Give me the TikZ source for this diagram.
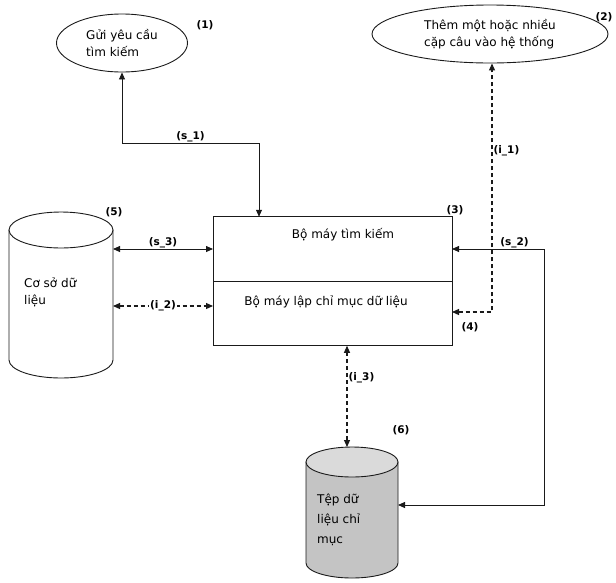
\documentclass[tikz,border=0pt]{standalone}
\usepackage{fontspec}
\setmainfont{DejaVu Sans}
\usetikzlibrary{arrows.meta,calc,positioning,shapes.geometric}
\definecolor{ink}{HTML}{1A1A1A}
\definecolor{tankbody}{HTML}{C4C4C4}
\definecolor{tanktop}{HTML}{DADADA}
\tikzset{
  goal/.style={
    ellipse,
    draw=ink,
    line width=0.9pt,
    inner sep=0pt,
    align=left,
    font=\fontsize{12}{17}\selectfont
  },
  engine/.style={
    rectangle,
    draw=ink,
    line width=1pt,
    outer sep=0pt,
    minimum width=239pt,
    minimum height=64.5pt,
    inner sep=0pt
  },
  tankspot/.style={rectangle, inner sep=0pt, outer sep=0pt},
  tankline/.style={draw=ink, line width=0.9pt},
  bodytext/.style={font=\fontsize{12}{17}\selectfont, align=left, inner sep=0pt},
  tag/.style={font=\fontsize{10.5}{12}\selectfont\bfseries, inner sep=1pt},
  onlink/.style={tag, fill=white},
  flow/.style={line width=0.8pt, draw=ink, {Triangle[length=7pt,width=6pt]}-{Triangle[length=7pt,width=6pt]}},
  update/.style={flow, line width=1.1pt, dash pattern=on 4pt off 3pt}
}
% #1 node, #2 x radius, #3 y radius, #4 body fill, #5 top fill
\newcommand{\drawtank}[5]{%
  \filldraw[tankline, fill=#4] ($(#1.north west)+(0,-#3)$) -- ($(#1.south west)+(0,#3)$)
    arc[start angle=180, end angle=360, x radius=#2, y radius=#3]
    -- ($(#1.north east)+(0,-#3)$) -- cycle;
  \draw[tankline, fill=#5] ($(#1.north)+(0,-#3)$) ellipse[x radius=#2, y radius=#3];
}

\begin{document}
\begin{tikzpicture}[x=1pt,y=-1pt]
\path[use as bounding box] (0,0) rectangle (616,582);

\node[goal, minimum width=131pt, minimum height=58pt] (query) at (122,43) {Gửi yêu cầu\\tìm kiếm};
\node[goal, minimum width=236pt, minimum height=58pt] (addpairs) at (490,34) {Thêm một hoặc nhiều\\cặp câu vào hệ thống};

\node[engine] (search) at (332.5,249) {};
\node[engine, anchor=north, line width=0.7pt] (indexer) at (search.south) {};
\draw[ink, line width=1pt] (indexer.north west) |- (indexer.south east) -- (indexer.north east);
\node[bodytext] (searchtxt) at (343,235) {Bộ máy tìm kiếm};
\node[bodytext] (indexertxt) at (326,302) {Bộ máy lập chỉ mục dữ liệu};

\node[tankspot, minimum width=104pt, minimum height=166pt] (db) at (61,295) {};
\drawtank{db}{52pt}{18pt}{white}{white}
\node[bodytext, anchor=north west] (dbtxt) at (24,278) {Cơ sở dữ\\liệu};
\node[tankspot, minimum width=92pt, minimum height=131pt] (idx) at (352,512.5) {};
\drawtank{idx}{46pt}{15pt}{tankbody}{tanktop}
\node[bodytext, anchor=north west, font=\fontsize{12}{20}\selectfont] (idxtxt) at (317,494) {Tệp dữ\\liệu chỉ\\mục};

% search requests
\coordinate (s1bend) at (259,143);
\coordinate (s2top) at (544,249);
\coordinate (s2bot) at (544,505);
\draw[flow] (query.south) -- (query.south |- s1bend) -- node[tag, above] {(s\_1)} (s1bend) -- (s1bend |- search.north);
\draw[flow] (search.east) -- node[tag, above, pos=0.68] {(s\_2)} (s2top) -- (s2bot) -- (s2bot -| idx.east);
\draw[flow] (search.west -| db.east) -- node[tag, above] {(s\_3)} (search.west);

% indexing
\coordinate (i1bend) at (492,312);
\coordinate (i2) at (213,306);
\coordinate (i3) at (347,346);
\draw[update] (i1bend -| indexer.east) -- (i1bend) -- node[tag, right, pos=0.65] {(i\_1)} (i1bend |- addpairs.south);
\draw[update] (i2 -| db.east) -- node[onlink] {(i\_2)} (i2 -| indexer.west);
\draw[update] (i3 |- indexer.south) -- node[tag, right, pos=0.32] {(i\_3)} (i3 |- idx.north);

\node[tag] (n1) at (205,25) {(1)};
\node[tag] (n2) at (604,17) {(2)};
\node[tag] (n3) at (455,210) {(3)};
\node[tag] (n4) at (470,327) {(4)};
\node[tag] (n5) at (114,212) {(5)};
\node[tag] (n6) at (401,430) {(6)};

\end{tikzpicture}
\end{document}
